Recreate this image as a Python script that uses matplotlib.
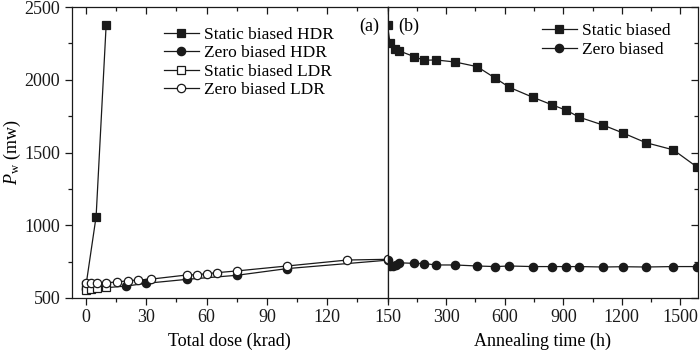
import numpy as np
import matplotlib
matplotlib.use("Agg")
import matplotlib.pyplot as plt
from matplotlib.ticker import MultipleLocator

plt.rcParams["font.family"] = ["Liberation Serif", "DejaVu Serif"]
plt.rcParams["mathtext.fontset"] = "custom"
plt.rcParams["mathtext.rm"] = "Liberation Serif"
plt.rcParams["mathtext.it"] = "Liberation Serif:italic"

# (a) total dose, krad
dose_static_hdr = [0, 5, 10]
pw_static_hdr = [590, 1060, 2378]
dose_zero_hdr = [0, 20, 30, 50, 75, 100, 150]
pw_zero_hdr = [560, 582, 601, 628, 656, 702, 760]
dose_static_ldr = [0, 2.5, 5.5, 10]
pw_static_ldr = [553, 562, 571, 578]
dose_zero_ldr = [0, 2.5, 5.5, 10, 15.5, 21, 26, 32.5, 50, 55, 60, 65, 75, 100, 130, 150]
pw_zero_ldr = [601, 601, 602, 605, 610, 619, 624, 630, 658, 660, 667, 674, 686, 720, 761, 766]

# (b) annealing time, h
t_static = [0, 13, 38, 61, 138, 186, 249, 346, 459, 553, 624, 745, 840, 916, 983,
            1103, 1206, 1322, 1464, 1583]
pw_static = [2376, 2250, 2211, 2198, 2158, 2134, 2136, 2122, 2090, 2010, 1948, 1879,
             1829, 1790, 1742, 1689, 1634, 1568, 1518, 1402]
t_zero = [0, 5, 15, 30, 45, 61, 138, 186, 249, 346, 459, 553, 624, 745, 840, 916, 983,
          1103, 1206, 1322, 1464, 1583]
pw_zero = [762, 735, 722, 718, 728, 742, 738, 737, 727, 727, 720, 716, 720, 716, 716,
           716, 716, 713, 715, 713, 716, 716]

C = "#1a1a1a"
FS = 13
LFS = 12.5
MS = 6
LW = 0.9

fig = plt.figure(figsize=(7.0, 3.52), dpi=100)
bottom = 54 / 352
height = 291 / 352
ax1 = fig.add_axes([72 / 700, bottom, 315.5 / 700, height])
ax2 = fig.add_axes([387.5 / 700, bottom, 310.5 / 700, height])

kw = dict(color=C, lw=LW, ms=MS, mec=C, mew=0.9)
ax1.plot(dose_static_hdr, pw_static_hdr, marker="s", mfc=C, label="Static biased HDR", **kw)
ax1.plot(dose_zero_hdr, pw_zero_hdr, marker="o", mfc=C, label="Zero biased HDR", **kw)
ax1.plot(dose_static_ldr, pw_static_ldr, marker="s", mfc="white", label="Static biased LDR", **kw)
ax1.plot(dose_zero_ldr, pw_zero_ldr, marker="o", mfc="white", label="Zero biased LDR", **kw)

ax2.plot(t_static, pw_static, marker="s", mfc=C, label="Static biased", **kw)
ax2.plot(t_zero, pw_zero, marker="o", mfc=C, label="Zero biased", **kw)

for ax in (ax1, ax2):
    ax.set_ylim(500, 2500)
    ax.yaxis.set_major_locator(MultipleLocator(500))
    ax.yaxis.set_minor_locator(MultipleLocator(250))
    for s in ax.spines.values():
        s.set_linewidth(0.9)
        s.set_color(C)
    ax.tick_params(which="both", colors=C, labelsize=FS, width=0.9)
    ax.tick_params(which="major", length=5)
    ax.tick_params(which="minor", length=3)
    ax.tick_params(axis="x", which="both", top=True, direction="out", pad=3)

ax1.set_xlim(-7, 150)
ax1.xaxis.set_major_locator(MultipleLocator(30))
ax1.xaxis.set_minor_locator(MultipleLocator(15))
ax1.tick_params(axis="y", which="both", left=True, right=False, direction="out")
ax1.set_ylabel(r"$P_{\rm w}$ (mw)", fontsize=FS, labelpad=1)
ax1.set_xlabel("Total dose (krad)", fontsize=FS, labelpad=5)

ax2.set_xlim(0, 1590)
ax2.xaxis.set_major_locator(MultipleLocator(300))
ax2.xaxis.set_minor_locator(MultipleLocator(150))
ax2.set_xticks([300, 600, 900, 1200, 1500])
ax2.tick_params(axis="y", which="both", left=False, right=True, labelleft=False,
                direction="in")
ax2.set_xlabel("Annealing time (h)", fontsize=FS, labelpad=5)

# top ticks point inward
for ax in (ax1, ax2):
    for t in ax.xaxis.get_major_ticks() + ax.xaxis.get_minor_ticks():
        t.tick2line.set_marker(3)

ax1.legend(loc="upper left", bbox_to_anchor=(0.27, 0.955), frameon=False, fontsize=LFS,
           handlelength=2.0, handletextpad=0.3, labelspacing=0.12, borderaxespad=0)
ax2.legend(loc="upper left", bbox_to_anchor=(0.475, 0.968), frameon=False, fontsize=LFS,
           handlelength=2.0, handletextpad=0.3, labelspacing=0.12, borderaxespad=0)

ax1.text(0.975, 0.935, "(a)", transform=ax1.transAxes, ha="right", va="center", fontsize=FS)
ax2.text(0.035, 0.935, "(b)", transform=ax2.transAxes, ha="left", va="center", fontsize=FS)

fig.savefig("out.png", dpi=100)
